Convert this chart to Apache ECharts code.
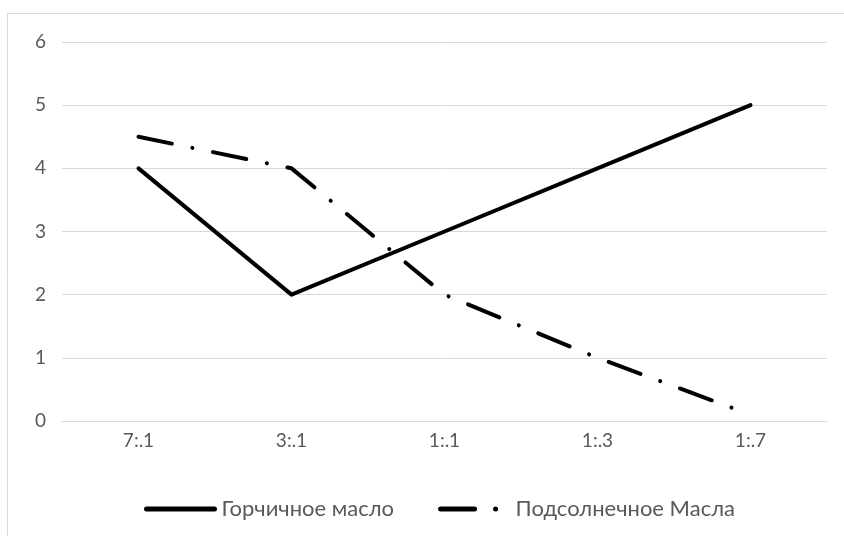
<!DOCTYPE html>
<html><head><meta charset="utf-8">
<script src="https://cdn.jsdelivr.net/npm/echarts@6/dist/echarts.min.js"></script>
<style>html,body{margin:0;padding:0;background:#fff}#c{width:844px;height:536px}</style>
</head><body><div id="c"></div>
<script>
const categories = ['7:.1', '3:.1', '1:.1', '1:.3', '1:.7'];
const mustardOil = [4, 2, 3, 4, 5];
const sunflowerOil = [4.5, 4, 2, 1, 0.1];
const seriesNames = ['Горчичное масло', 'Подсолнечное Масла'];

const FONT = 'Lato, "Open Sans", sans-serif';
const chart = echarts.init(document.getElementById('c'));
chart.setOption({
  animation: false,
  backgroundColor: '#fff',
  graphic: [{type: 'rect', shape: {x: 7.5, y: 13.5, width: 860, height: 560}, style: {fill: 'none', stroke: '#d9d9d9', lineWidth: 1}, silent: true}],
  grid: {left: 62, right: 17, top: 42, bottom: 115},
  legend: {
    top: 493, left: 139, itemWidth: 68, itemHeight: 14, itemGap: 44,
    itemStyle: {opacity: 0},
    lineStyle: {width: 5, cap: 'round'},
    textStyle: {color: '#595959', fontSize: 22, fontFamily: FONT, padding: [0, 0, 0, 2]},
    data: seriesNames
  },
  xAxis: {
    type: 'category', data: categories, boundaryGap: true,
    axisLine: {lineStyle: {color: '#d9d9d9', width: 1}},
    axisTick: {show: false},
    axisLabel: {color: '#595959', fontSize: 19, fontFamily: FONT, margin: 10}
  },
  yAxis: {
    type: 'value', min: 0, max: 6, interval: 1,
    axisLine: {show: false}, axisTick: {show: false},
    splitLine: {lineStyle: {color: '#d9d9d9', width: 1}},
    axisLabel: {color: '#595959', fontSize: 19, fontFamily: FONT, margin: 16}
  },
  series: [
    {name: seriesNames[0], type: 'line', data: mustardOil, symbol: 'none', color: '#000',
     lineStyle: {color: '#000', width: 4, cap: 'round', join: 'round'}},
    {name: seriesNames[1], type: 'line', data: sunflowerOil, symbol: 'none', color: '#000',
     lineStyle: {color: '#000', width: 4, type: [34, 21, 0.01, 21], cap: 'round', join: 'round'}}
  ]
});
</script></body></html>
